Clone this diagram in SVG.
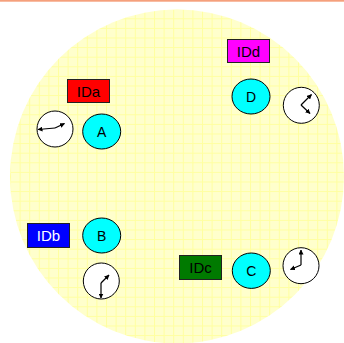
<svg xmlns="http://www.w3.org/2000/svg" width="344" height="343" viewBox="0 0 344 343">
<defs>
<style>
.lbl{stroke:#222;stroke-width:1}
.t{font-family:"Liberation Sans",Arial,sans-serif;font-size:15px;text-anchor:middle}
.n{font-family:"Liberation Sans",Arial,sans-serif;font-size:14px;text-anchor:middle;fill:#000}
.node{fill:#00ffff;stroke:#000;stroke-width:1}
.clock{fill:#fff;stroke:#000;stroke-width:1}
.hand{stroke:#000;stroke-width:1.2;fill:none;marker-end:url(#ah)}
</style>
<marker id="ah" viewBox="0 0 10 10" refX="9" refY="5" markerWidth="5" markerHeight="5" orient="auto" markerUnits="userSpaceOnUse">
<path d="M0,0 L10,5 L0,10 z" fill="#000"/>
</marker>
<pattern id="grid" patternUnits="userSpaceOnUse" x="154" y="152.7" width="9.6" height="9.6">
<rect width="9.6" height="9.6" fill="#ffffcc"/>
<path d="M0.5,0 V9.6 M0,0.5 H9.6" stroke="#ffffa0" stroke-width="1"/>
</pattern>
</defs>
<rect width="344" height="343" fill="#fff"/>
<rect x="0" y="0" width="344" height="1.7" fill="#f5a07c"/>
<circle cx="177" cy="176.5" r="167" fill="url(#grid)"/>
<g id="connectors"></g>
<g id="IDa"><rect class="lbl" x="67.5" y="79.5" width="42" height="23" fill="#ff0000"/><text class="t" x="88.5" y="96.5" fill="#000">IDa</text></g>
<g id="IDb"><rect class="lbl" x="27.5" y="223.5" width="42" height="24" fill="#0000ff"/><text class="t" x="48.5" y="241" fill="#fff">IDb</text></g>
<g id="IDc"><rect class="lbl" x="179.5" y="255.5" width="42" height="24" fill="#007a00"/><text class="t" x="200.5" y="273" fill="#000">IDc</text></g>
<g id="IDd"><rect class="lbl" x="227.5" y="39.5" width="42" height="23" fill="#ff00ff"/><text class="t" x="248.5" y="56.5" fill="#000">IDd</text></g>
<g id="A"><ellipse class="node" cx="101.7" cy="131.5" rx="19" ry="17.5"/><text class="n" x="101.7" y="136.5">A</text></g>
<g id="B"><ellipse class="node" cx="101.7" cy="235.5" rx="19" ry="17.5"/><text class="n" x="101.7" y="240.5">B</text></g>
<g id="C"><ellipse class="node" cx="251.3" cy="270.7" rx="19" ry="17.7"/><text class="n" x="251.3" y="275.7">C</text></g>
<g id="D"><ellipse class="node" cx="251" cy="96.5" rx="19" ry="17.5"/><text class="n" x="251" y="101.5">D</text></g>
<g id="clockA"><circle class="clock" cx="55" cy="129" r="18"/><path class="hand" d="M55,128 L38,129.5"/><path class="hand" d="M55,128 L64.5,123.5"/></g>
<g id="clockB"><circle class="clock" cx="101.3" cy="281" r="18"/><path class="hand" d="M101,283 L101,298"/><path class="hand" d="M101,283 L109,275"/></g>
<g id="clockC"><circle class="clock" cx="301" cy="265.7" r="18"/><path class="hand" d="M301,265 L301,250"/><path class="hand" d="M301,265 L290.5,269.5"/></g>
<g id="clockD"><circle class="clock" cx="301.3" cy="105.3" r="18"/><path class="hand" d="M301,105 L311.5,94.5"/><path class="hand" d="M301,105 L310,113.5"/></g>
</svg>
